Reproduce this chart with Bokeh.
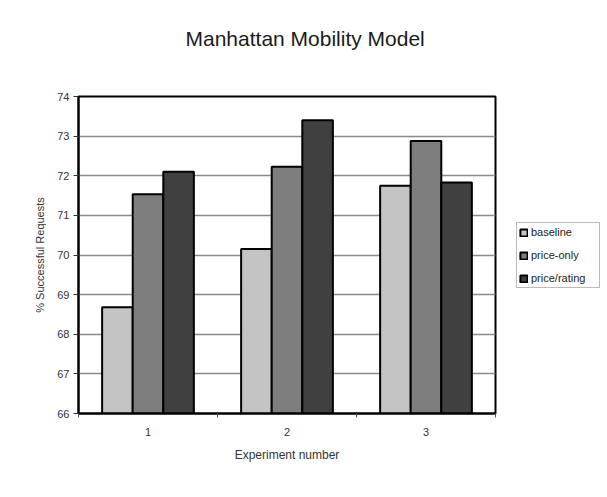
from bokeh.plotting import figure
from bokeh.layouts import row
from bokeh.models import (Range1d, FixedTicker, Legend, LegendItem, ColumnDataSource, Title)
from bokeh.embed import file_html
from bokeh.resources import INLINE

# Experiment numbers and results per strategy (% of successful requests)
experiments = [1, 2, 3]
exp_labels = ["1", "2", "3"]
baseline = [68.68, 70.15, 71.75]
price_only = [71.53, 72.23, 72.88]
price_rating = [72.10, 73.40, 71.83]

series_names = ["baseline", "price-only", "price/rating"]
series_colors = ["#c4c4c4", "#7e7e7e", "#404040"]
y_ticks = [66, 67, 68, 69, 70, 71, 72, 73, 74]

FONT = "Liberation Sans"
series_values = [baseline, price_only, price_rating]

p = figure(width=500, height=497, output_backend="svg", toolbar_location=None,
           x_range=Range1d(0.5, 3.5), y_range=Range1d(66, 74),
           min_border_left=78, min_border_right=5, min_border_bottom=84,
           min_border_top=0, title=None)
p.background_fill_color = "white"
p.border_fill_color = "white"
p.outline_line_color = "black"
p.outline_line_width = 2

# spacer between frame and title, then the title itself
p.add_layout(Title(text=" ", text_font_size="1px", standoff=19), "above")
p.add_layout(Title(text="Manhattan Mobility Model", align="left", offset=107,
                   text_font=FONT, text_font_size="21px", text_font_style="normal",
                   text_color="#1a1a1a", standoff=49), "above")

bar_w = 0.22
offsets = [-bar_w, 0.0, bar_w]
for vals, off, col in zip(series_values, offsets, series_colors):
    src = ColumnDataSource(dict(x=[e + off for e in experiments], top=vals))
    p.vbar(x="x", top="top", bottom=66, width=bar_w, source=src,
           fill_color=col, line_color="black", line_width=2)

# grid
p.xgrid.visible = False
p.ygrid.ticker = FixedTicker(ticks=y_ticks)
p.ygrid.grid_line_color = "#8a8a8a"
p.ygrid.grid_line_width = 1.5

# y axis
p.yaxis.ticker = FixedTicker(ticks=y_ticks)
p.yaxis.axis_label = "% Successful Requests"
p.yaxis.axis_label_text_font = FONT
p.yaxis.axis_label_text_font_size = "11px"
p.yaxis.axis_label_text_font_style = "normal"
p.yaxis.axis_label_text_color = "#333333"
p.yaxis.axis_label_standoff = 8
p.yaxis.major_label_text_font = FONT
p.yaxis.major_label_text_font_size = "11px"
p.yaxis.major_label_text_color = "#333333"
p.yaxis.major_tick_in = 0
p.yaxis.major_tick_out = 5
p.yaxis.major_tick_line_color = "#333333"
p.yaxis.minor_tick_line_color = None
p.yaxis.axis_line_color = "black"
p.yaxis.axis_line_width = 2
p.yaxis.major_label_standoff = 4

# x axis: labels at experiment centres, tick marks at group boundaries
p.xaxis.ticker = FixedTicker(ticks=experiments, minor_ticks=[0.5, 1.5, 2.5, 3.5])
p.xaxis.major_label_overrides = {e: s for e, s in zip(experiments, exp_labels)}
p.xaxis.axis_label = "Experiment number"
p.xaxis.axis_label_text_font = FONT
p.xaxis.axis_label_text_font_size = "12px"
p.xaxis.axis_label_text_font_style = "normal"
p.xaxis.axis_label_text_color = "#333333"
p.xaxis.axis_label_standoff = 9
p.xaxis.major_label_text_font = FONT
p.xaxis.major_label_text_font_size = "11px"
p.xaxis.major_label_text_color = "#333333"
p.xaxis.major_label_standoff = 8
p.xaxis.major_tick_line_color = None
p.xaxis.minor_tick_in = 0
p.xaxis.minor_tick_out = 4
p.xaxis.minor_tick_line_color = "#555555"
p.xaxis.axis_line_color = "black"
p.xaxis.axis_line_width = 2

# legend panel on the right, drawn in its own small figure; the swatch
# renderers carry the series but are hidden, only their legend glyphs show
lg = figure(width=107, height=497, output_backend="svg", toolbar_location=None,
            x_axis_type=None, y_axis_type=None, x_range=Range1d(0, 1), y_range=Range1d(0, 1),
            min_border=0, title=None)
lg.outline_line_color = None
lg.background_fill_color = "white"
lg.border_fill_color = "white"
lg.grid.visible = False
swatches = []
for vals, col in zip(series_values, series_colors):
    r = lg.vbar(x=experiments, top=vals, bottom=66, width=bar_w,
                fill_color=col, line_color="black", line_width=2)
    r.visible = False
    swatches.append(r)

legend = Legend(items=[LegendItem(label=n, renderers=[r]) for n, r in zip(series_names, swatches)],
                location=(16, 125), orientation="vertical")
legend.label_text_font = FONT
legend.label_text_font_size = "11px"
legend.label_text_color = "#222222"
legend.glyph_width = 9
legend.glyph_height = 9
legend.label_standoff = 3
legend.label_height = 14
legend.label_width = 66
legend.spacing = 9
legend.padding = 2
legend.margin = 0
legend.border_line_color = "#777777"
legend.border_line_width = 1
legend.background_fill_alpha = 1
legend.inactive_fill_alpha = 0
lg.add_layout(legend, "center")

open("out.html", "w").write(file_html(row(p, lg), INLINE))
